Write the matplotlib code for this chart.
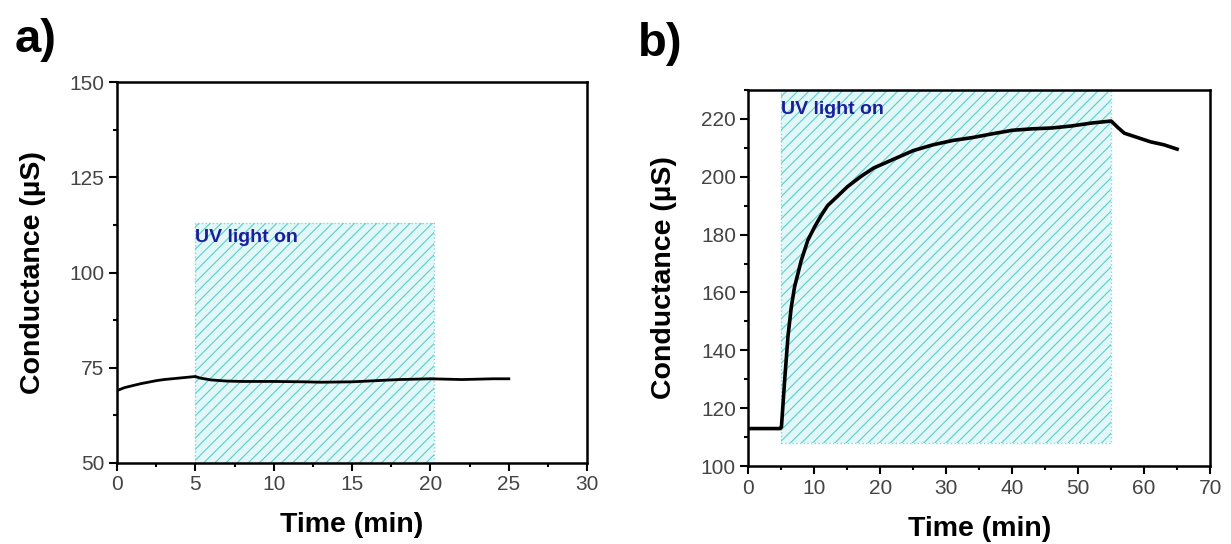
import numpy as np
import matplotlib
matplotlib.use("Agg")
import matplotlib.pyplot as plt
from matplotlib.patches import Rectangle
from matplotlib.ticker import MultipleLocator

plt.rcParams["font.family"] = ["Liberation Sans", "DejaVu Sans"]
plt.rcParams["hatch.linewidth"] = 0.8

# panel a: conductance vs time
time_a = [0, 0.5, 1, 1.5, 2, 2.5, 3, 3.5, 4, 4.5, 5, 5.3, 6, 7, 8, 10, 12, 13,
          15, 17, 18, 20, 21, 22, 23, 24, 25]
cond_a = [69.0, 69.8, 70.3, 70.8, 71.2, 71.6, 71.9, 72.1, 72.3, 72.5, 72.7, 72.3,
          71.8, 71.5, 71.4, 71.4, 71.3, 71.2, 71.3, 71.7, 71.9, 72.1, 72.0, 71.9,
          72.0, 72.1, 72.1]

# panel b
time_b = [0, 2, 4.8, 5.0, 5.5, 6, 6.5, 7, 8, 9, 10, 11, 12, 13.4, 15, 17, 19, 21,
          23, 25, 28, 31, 34, 37, 40, 43, 46, 49, 52, 55, 56, 57, 59, 61, 63, 65]
cond_b = [113, 113, 113, 113.5, 130, 145, 155, 162, 171, 178, 182.5, 186.5, 190,
          193, 196.5, 200, 203, 205, 207, 209, 211, 212.5, 213.5, 214.8, 216,
          216.5, 216.8, 217.5, 218.5, 219.2, 217, 215, 213.5, 212, 211, 209.5]

# UV light on windows: (start, end, low, high)
uv_a = (5.0, 20.2, 50, 113)
uv_b = (5.0, 55.0, 108, 230)

fig = plt.figure(figsize=(12.31, 5.44), dpi=100)
ax1 = fig.add_axes([0.095, 0.149, 0.382, 0.700])
ax2 = fig.add_axes([0.608, 0.143, 0.375, 0.692])


def uv_box(ax, box):
    x0, x1, y0, y1 = box
    ax.add_patch(Rectangle((x0, y0), x1 - x0, y1 - y0, facecolor="#e2f8f8",
                           edgecolor="none", zorder=1))
    ax.add_patch(Rectangle((x0, y0), x1 - x0, y1 - y0, facecolor="none",
                           edgecolor="#5ccccc", hatch="///", linewidth=0,
                           zorder=1.5))
    ax.add_patch(Rectangle((x0, y0), x1 - x0, y1 - y0, facecolor="none",
                           edgecolor="#7fd8d8", linestyle=":", linewidth=1.0,
                           zorder=1.6))


def style(ax, xmax, xmajor, ymin, ymax, ymajor, yminor):
    ax.set_xlim(0, xmax)
    ax.set_ylim(ymin, ymax)
    ax.xaxis.set_major_locator(MultipleLocator(xmajor))
    ax.xaxis.set_minor_locator(MultipleLocator(xmajor / 2))
    ax.yaxis.set_major_locator(MultipleLocator(ymajor))
    ax.yaxis.set_minor_locator(MultipleLocator(yminor))
    for s in ax.spines.values():
        s.set_linewidth(1.8)
    ax.tick_params(which="major", direction="out", length=6, width=1.5,
                   labelsize=15, labelcolor="#444444", pad=3)
    ax.tick_params(which="minor", direction="out", length=3, width=1.5)
    ax.set_xlabel("Time (min)", fontsize=20.5, fontweight="bold", labelpad=13)
    ax.set_ylabel("Conductance (\u00b5S)", fontsize=20.5, fontweight="bold",
                  labelpad=17)


uv_box(ax1, uv_a)
ax1.plot(time_a, cond_a, color="black", linewidth=2.0, zorder=3)
style(ax1, 30, 5, 50, 150, 25, 12.5)
ax1.text(5.0, 108.0, "UV light on", color="#1c1c9c", fontsize=14,
         fontweight="bold", zorder=4)

uv_box(ax2, uv_b)
ax2.plot(time_b, cond_b, color="black", linewidth=2.6, zorder=3)
style(ax2, 70, 10, 100, 230, 20, 10)
ax2.text(5.0, 221.5, "UV light on", color="#1c1c9c", fontsize=14,
         fontweight="bold", zorder=4)

fig.text(0.012, 0.905, "a)", fontsize=34, fontweight="bold")
fig.text(0.518, 0.897, "b)", fontsize=34, fontweight="bold")

fig.savefig("out.png", dpi=100)
